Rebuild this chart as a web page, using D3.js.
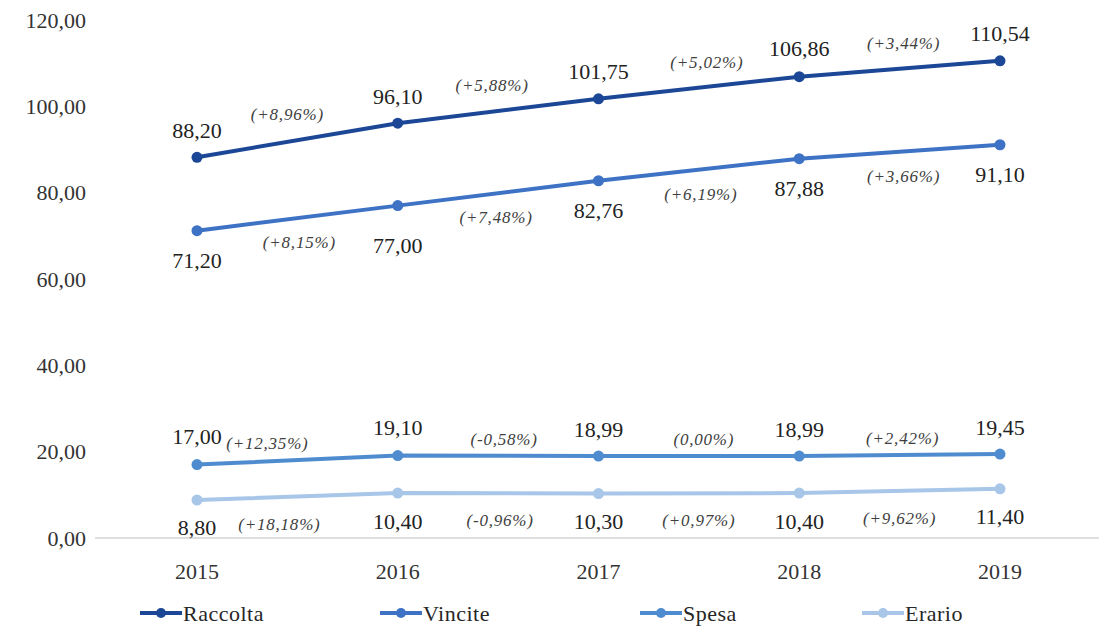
<!DOCTYPE html>
<html><head><meta charset="utf-8">
<script src="https://cdn.jsdelivr.net/npm/d3@7"></script>
<style>body{margin:0;background:#fff}svg{display:block}
svg#c text, svg#c g text{font-family:"Liberation Serif","Times New Roman",serif !important}</style>
</head><body><svg id="c" width="1099" height="633"></svg>
<script>
const years = ["2015","2016","2017","2018","2019"];
const seriesNames = ["Raccolta","Vincite","Spesa","Erario"];
const raccolta = [88.20, 96.10, 101.75, 106.86, 110.54];
const vincite  = [71.20, 77.00, 82.76, 87.88, 91.10];
const spesa    = [17.00, 19.10, 18.99, 18.99, 19.45];
const erario   = [8.80, 10.40, 10.30, 10.40, 11.40];
const raccoltaPct = ["(+8,96%)","(+5,88%)","(+5,02%)","(+3,44%)"];
const vincitePct  = ["(+8,15%)","(+7,48%)","(+6,19%)","(+3,66%)"];
const spesaPct    = ["(+12,35%)","(-0,58%)","(0,00%)","(+2,42%)"];
const erarioPct   = ["(+18,18%)","(-0,96%)","(+0,97%)","(+9,62%)"];
const yTicks = [0,20,40,60,80,100,120];

// styling / label placement (kept apart from the data)
const colors = ["#1b4796","#3e72c4","#4f8ccf","#a7c6e8"];
const valOffset = [[-27,-27,-27,-28,-28],[30,40,30,30,30],[-28,-28,-27,-27,-27],[27,28,28,28,28]];
const pctOffset = [-26, 24, -17, 27];
const pctDx = [[-10,-6,8,4],[2,-2,2,4],[-30,6,5,3],[-18,2,0,0]];
const FONT = "Liberation Serif, Times New Roman, serif";

const series = [
  {name: seriesNames[0], values: raccolta, pct: raccoltaPct},
  {name: seriesNames[1], values: vincite, pct: vincitePct},
  {name: seriesNames[2], values: spesa, pct: spesaPct},
  {name: seriesNames[3], values: erario, pct: erarioPct}
];

const svg = d3.select("#c");
const x = d3.scalePoint().domain(years).range([197, 1000]);
const y = d3.scaleLinear().domain([0,120]).range([538, 20]);
const fmt = v => d3.format(".2f")(v).replace(".", ",");
const txt = sel => sel.style("font-family", FONT, "important").attr("font-family", FONT);

// y tick labels
svg.append("g").selectAll("text").data(yTicks).join("text")
  .attr("x", 86).attr("y", d => y(d)).attr("dy", "0.35em")
  .attr("text-anchor", "end").style("font-size", "22px")
  .attr("fill", "#333").text(d => fmt(d)).call(txt);

// baseline
svg.append("line").attr("x1", 95).attr("x2", 1099).attr("y1", y(0)).attr("y2", y(0))
  .attr("stroke", "#d4d4d4").attr("stroke-width", 1.5);

// x labels
svg.append("g").selectAll("text").data(years).join("text")
  .attr("x", d => x(d)).attr("y", 571).attr("dy", "0.35em")
  .attr("text-anchor", "middle").style("font-size", "22px")
  .attr("fill", "#333").text(d => d).call(txt);

const line = d3.line().x((d,i) => x(years[i])).y(d => y(d));

series.forEach((s, si) => {
  const g = svg.append("g");
  g.append("path").datum(s.values).attr("d", line)
    .attr("fill", "none").attr("stroke", colors[si]).attr("stroke-width", 4).attr("stroke-linejoin", "round");
  g.selectAll("circle").data(s.values).join("circle")
    .attr("cx", (d,i) => x(years[i])).attr("cy", d => y(d)).attr("r", 5.5).attr("fill", colors[si]);
  g.selectAll("text.v").data(s.values).join("text").attr("class", "v")
    .attr("x", (d,i) => x(years[i])).attr("y", (d,i) => y(d) + valOffset[si][i]).attr("dy", "0.35em")
    .attr("text-anchor", "middle").style("font-size", "22px")
    .attr("fill", "#222").text(d => fmt(d)).call(txt);
  g.selectAll("text.p").data(s.pct).join("text").attr("class", "p")
    .attr("x", (d,i) => (x(years[i]) + x(years[i+1]))/2 + pctDx[si][i])
    .attr("y", (d,i) => (y(s.values[i]) + y(s.values[i+1]))/2 + pctOffset[si]).attr("dy", "0.35em")
    .attr("text-anchor", "middle").style("font-size", "17px").style("letter-spacing", "0.8px")
    .style("font-style", "italic").attr("fill", "#404040").text(d => d).call(txt);
});

// legend
const legX = [140, 380, 640, 862];
const leg = svg.append("g").selectAll("g").data(series).join("g")
  .attr("transform", (d,i) => `translate(${legX[i]},613)`);
leg.append("line").attr("x1", 0).attr("x2", 42).attr("stroke", (d,i) => colors[i]).attr("stroke-width", 4);
leg.append("circle").attr("cx", 21).attr("r", 5).attr("fill", (d,i) => colors[i]);
leg.append("text").attr("x", 43).attr("dy", "0.35em").style("font-size", "22px").style("letter-spacing", "0.5px")
  .attr("fill", "#262626").text(d => d.name).call(txt);
</script></body></html>
